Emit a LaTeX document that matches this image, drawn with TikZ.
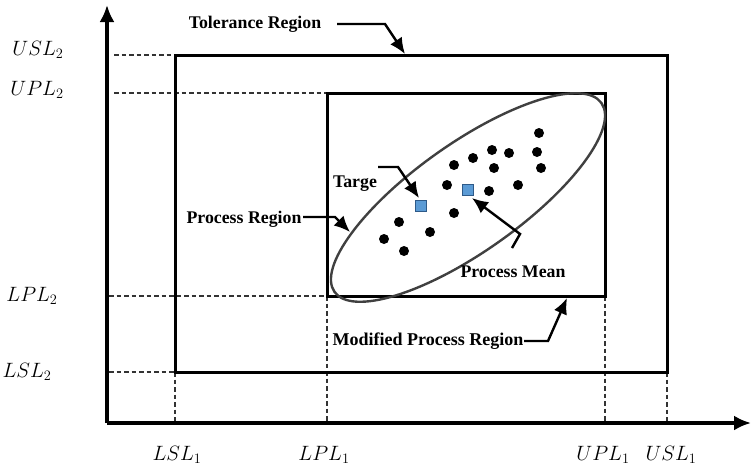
\documentclass[tikz,border=0pt]{standalone}
\usepackage{fontspec}
\setmainfont{Liberation Serif}
\usetikzlibrary{arrows.meta}
\definecolor{sqfill}{HTML}{5B9BD5}
\definecolor{sqline}{HTML}{2E5A88}
\definecolor{ellcol}{HTML}{404040}
\begin{document}
\begin{tikzpicture}[x=1pt,y=-1pt,
  lab/.style={font=\fontsize{17.8}{20}\selectfont\bfseries, inner sep=0pt},
  axlab/.style={font=\fontsize{20}{22}\selectfont, inner sep=0pt},
  guide/.style={dash pattern=on 4.5pt off 3pt, line width=1.2pt, draw=black!80},
  boxline/.style={line width=3pt},
  axisline/.style={line width=3.2pt, -{Latex[length=17pt,width=15pt]}},
  ptr/.style={line width=2.4pt, -{Latex[length=16pt,width=14pt]}},
  pt/.style={circle, fill=black, inner sep=0pt, minimum size=10pt},
  sq/.style={draw=sqline, fill=sqfill, line width=1.8pt, minimum size=11pt, inner sep=0pt}]
\useasboundingbox (0,0) rectangle (751,469);
% coordinates
\coordinate (O) at (107,423);
\coordinate (ytip) at (107,5);
\coordinate (xtip) at (751,423);
\coordinate (oA) at (175,55);
\coordinate (oB) at (667,372);
\coordinate (iA) at (327,93);
\coordinate (iB) at (605,296);
\coordinate (oBL) at (175,372);
\coordinate (oBR) at (667,372);
\coordinate (iBL) at (327,296);
\coordinate (iBR) at (605,296);
\coordinate (gUSL2) at (114,55);
\coordinate (gUPL2) at (114,93);
\coordinate (gLPL2) at (109,296);
\coordinate (gLSL2) at (109,372);
\coordinate (bLSL1) at (175,421);
\coordinate (bLPL1) at (327,421);
\coordinate (bUPL1) at (605,421);
\coordinate (bUSL1) at (667,421);
% guides
\draw[guide] (gUSL2) -- (oA);
\draw[guide] (gUPL2) -- (iA);
\draw[guide] (gLPL2) -- (iBL);
\draw[guide] (gLSL2) -- (oBL);
\draw[guide] (oBL) -- (bLSL1);
\draw[guide] (iBL) -- (bLPL1);
\draw[guide] (iBR) -- (bUPL1);
\draw[guide] (oBR) -- (bUSL1);
% boxes
\draw[boxline] (oA) rectangle (oB);
\draw[boxline] (iA) rectangle (iB);
% axes
\draw[axisline] (O) -- (ytip);
\draw[axisline] (O) -- (xtip);
% ellipse
\draw[ellcol, line width=2.4pt, rotate around={35.3:(468,197.5)}] (468,197.5) ellipse [x radius=163.5, y radius=54];
% dots
\foreach \p/\n in {{(539,133)}/d1,{(492,150)}/d2,{(509,153)}/d3,{(537,152)}/d4,{(473,158)}/d5,{(454,165)}/d6,{(494,168)}/d7,{(541,168)}/d8,{(447,185)}/d9,{(489,191)}/d10,{(518,185)}/d11,{(454,213)}/d12,{(399,222)}/d13,{(430,232)}/d14,{(384,239)}/d15,{(404,251)}/d16}
  \node[pt] (\n) at \p {};
% squares
\node[sq] (tgt) at (421,206) {};
\node[sq] (mean) at (468,190) {};
% axis labels
\node[axlab] (USL2) at (38,50) {$USL_2$};
\node[axlab] (UPL2) at (37,90) {$UPL_2$};
\node[axlab] (LPL2) at (32,296) {$LPL_2$};
\node[axlab] (LSL2) at (27,372) {$LSL_2$};
\node[axlab] (LSL1) at (177,455) {$LSL_1$};
\node[axlab] (LPL1) at (324,455) {$LPL_1$};
\node[axlab] (UPL1) at (603,455) {$UPL_1$};
\node[axlab] (USL1) at (671,455) {$USL_1$};
% region labels
\node[lab] (tol) at (255,24) {Tolerance Region};
\node[lab] (proc) at (244,219) {Process Region};
\node[lab] (targ) at (355,184) {Targe};
\node[lab] (pmean) at (513,272) {Process Mean};
\node[lab, font=\fontsize{18}{20}\selectfont\bfseries] (mod) at (428,341) {Modified Process Region};
% pointer coordinates
\coordinate (tolA) at (337,24);
\coordinate (tolB) at (385,24);
\coordinate (tolT) at (405,54);
\coordinate (procA) at (303,217);
\coordinate (procB) at (335,217);
\coordinate (procT) at (350,232);
\coordinate (tgA) at (378,167);
\coordinate (tgB) at (398,167);
\coordinate (tgT) at (419,198);
\coordinate (pmA) at (512,248);
\coordinate (pmB) at (520,234);
\coordinate (pmT) at (472,198);
\coordinate (modA) at (524,341);
\coordinate (modB) at (548,341);
\coordinate (modT) at (567,298);
% pointers
\draw[ptr] (tolA) -- (tolB) -- (tolT);
\draw[ptr] (procA) -- (procB) -- (procT);
\draw[ptr] (tgA) -- (tgB) -- (tgT);
\draw[ptr] (pmA) -- (pmB) -- (pmT);
\draw[ptr] (modA) -- (modB) -- (modT);
\end{tikzpicture}
\end{document}
